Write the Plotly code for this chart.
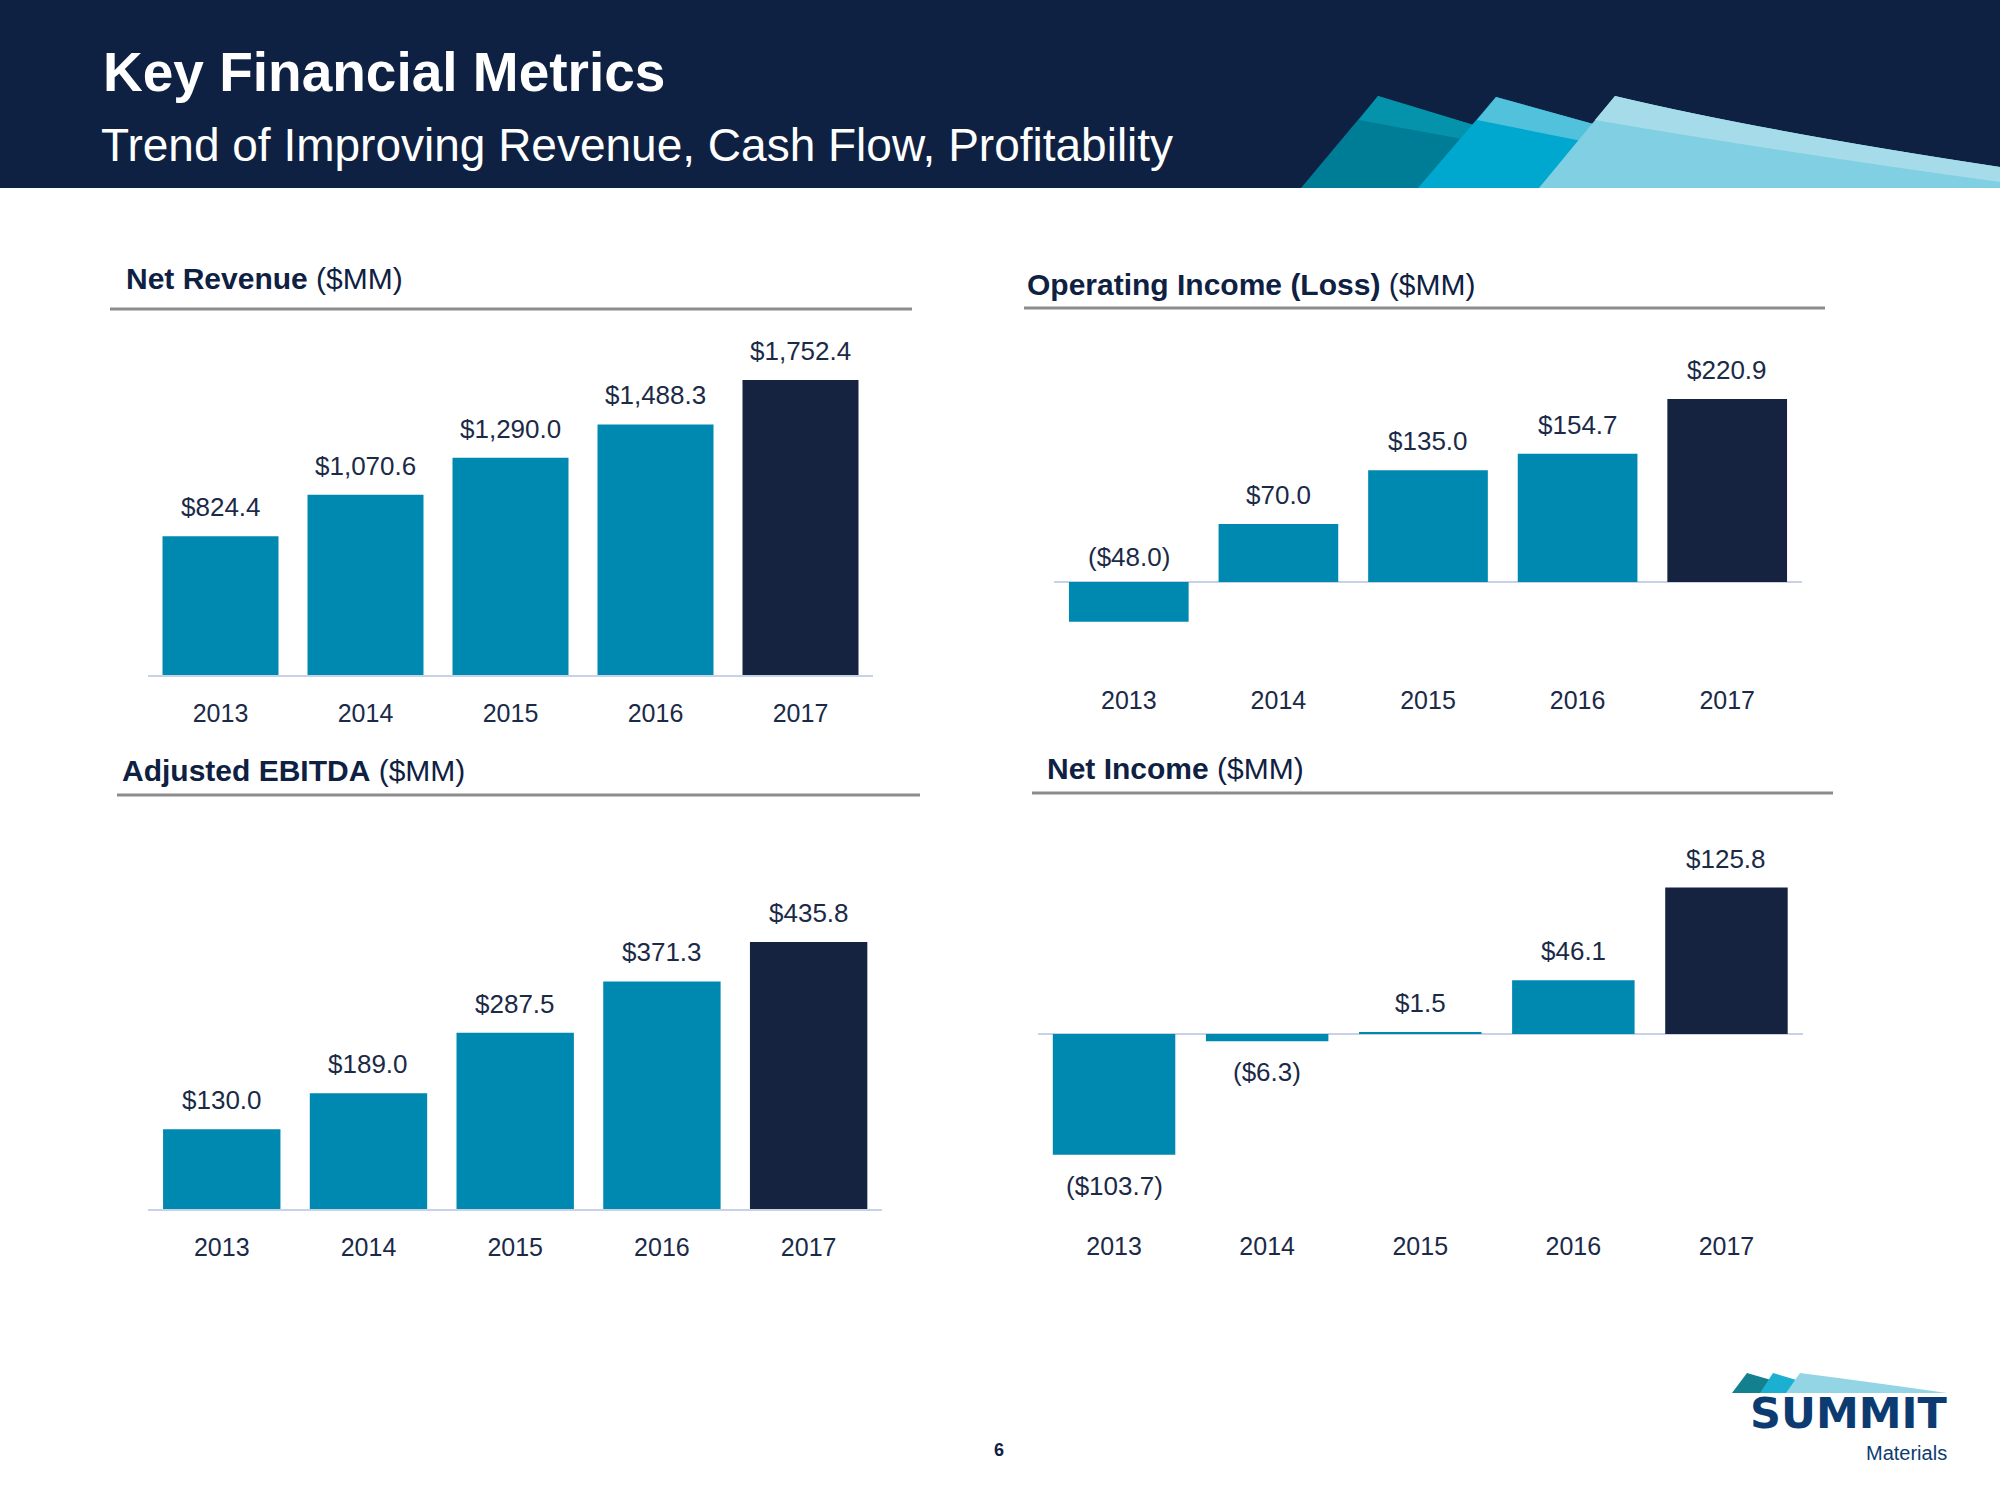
import plotly.graph_objects as go

# ---------------- data ----------------
years = ["2013", "2014", "2015", "2016", "2017"]
net_revenue = [824.4, 1070.6, 1290.0, 1488.3, 1752.4]
operating_income = [-48.0, 70.0, 135.0, 154.7, 220.9]
adjusted_ebitda = [130.0, 189.0, 287.5, 371.3, 435.8]
net_income = [-103.7, -6.3, 1.5, 46.1, 125.8]

chart_titles = ["Net Revenue", "Operating Income (Loss)", "Adjusted EBITDA", "Net Income"]
unit_label = "($MM)"
header_title = "Key Financial Metrics"
header_subtitle = "Trend of Improving Revenue, Cash Flow, Profitability"
page_number = "6"
logo_name = "SUMMIT"
logo_sub = "Materials"

# ---------------- style ----------------
W, H = 2000, 1500
FONT = "Liberation Sans, Arial, sans-serif"
NAVY = "#0f2142"
TEAL = "#0089b0"
DARK = "#152340"
TXT = "#1b2a47"
RULE = "#8c8c8c"
BASE = "#c8d2e6"


def fx(x):
    return x / W


def fy(y):
    return 1 - y / H


def path(cmds):
    out = []
    for c in cmds:
        if isinstance(c, str):
            out.append(c)
        else:
            out.append(f"{fx(c[0]):.5f},{fy(c[1]):.5f}")
    return " ".join(out)


panels = [
    dict(vals=net_revenue, x0=148, x1=873, yt=330, yb=675, yr=[0, 2049.4],
         neg="below", tx=124, tb=289, rule=(110, 912, 309), base="axis"),
    dict(vals=operating_income, x0=1054, x1=1802, yt=330, yb=662.5, yr=[-97.2, 304.2],
         neg="above_zero", tx=1025, tb=295, rule=(1024, 1825, 308), base="zero"),
    dict(vals=adjusted_ebitda, x0=148.4, x1=882, yt=850, yb=1209, yr=[0, 585.9],
         neg="below", tx=120, tb=781, rule=(117, 920, 795), base="axis"),
    dict(vals=net_income, x0=1037.5, x1=1803, yt=850, yb=1209, yr=[-150.3, 158.0],
         neg="below", tx=1045, tb=779, rule=(1032, 1833, 793), base="zero"),
]

fig = go.Figure()
layout = dict(
    width=W, height=H, margin=dict(l=0, r=0, t=0, b=0, pad=0, autoexpand=False),
    paper_bgcolor="white", plot_bgcolor="rgba(0,0,0,0)",
    showlegend=False, bargap=0.2,
    font=dict(family=FONT, color=TXT),
)
annotations = []
shapes = []

for i, p in enumerate(panels):
    n = "" if i == 0 else str(i + 1)
    colors = [TEAL] * (len(years) - 1) + [DARK]
    fig.add_trace(go.Bar(x=years, y=p["vals"], xaxis="x" + n, yaxis="y" + n,
                         marker=dict(color=colors, line=dict(width=0)),
                         hoverinfo="skip"))
    layout["xaxis" + n] = dict(
        type="category", automargin=False, range=[-0.5, len(years) - 0.5],
        categoryorder="array", categoryarray=years,
        domain=[fx(p["x0"]), fx(p["x1"])], anchor="y" + n,
        showgrid=False, zeroline=False,
        showline=(p["base"] == "axis"), linecolor=BASE, linewidth=2,
        ticks="outside", ticklen=15, tickcolor="rgba(0,0,0,0)",
        tickfont=dict(family=FONT, size=25, color=TXT),
    )
    layout["yaxis" + n] = dict(
        domain=[fy(p["yb"]), fy(p["yt"])], anchor="x" + n, range=p["yr"],
        automargin=False,
        showgrid=False, showticklabels=False, ticks="", showline=False,
        zeroline=(p["base"] == "zero"), zerolinecolor=BASE, zerolinewidth=2,
    )
    for j, v in enumerate(p["vals"]):
        if v >= 0:
            txt = f"${v:,.1f}"
            yv, ys = v, 29
        else:
            txt = f"(${abs(v):,.1f})"
            if p["neg"] == "above_zero":
                yv, ys = 0, 25
            else:
                yv, ys = v, -31
        annotations.append(dict(x=j, y=yv, xref="x" + n, yref="y" + n,
                                text=txt, showarrow=False, yanchor="middle",
                                xanchor="center", yshift=ys,
                                font=dict(family=FONT, size=26, color=TXT)))
    annotations.append(dict(x=fx(p["tx"]), y=fy(p["tb"] - 10.7), xref="paper", yref="paper",
                            xanchor="left", yanchor="middle", showarrow=False,
                            text=f"<b>{chart_titles[i]}</b> {unit_label}",
                            font=dict(family=FONT, size=30, color=NAVY)))
    r0, r1, ry = p["rule"]
    shapes.append(dict(type="line", xref="paper", yref="paper",
                       x0=fx(r0), x1=fx(r1), y0=fy(ry), y1=fy(ry),
                       line=dict(color=RULE, width=3)))

# ---------------- header ----------------
shapes.append(dict(type="rect", xref="paper", yref="paper", x0=0, x1=1,
                   y0=fy(188), y1=1, fillcolor=NAVY, line=dict(width=0), layer="below"))
sail_shapes = [
    (path(["M", (1301, 188), "L", (1378, 96), "L", (1500, 133), "L", (1500, 188), "Z"]), "#007d96"),
    (path(["M", (1378, 96), "L", (1500, 133), "L", (1500, 146), "L", (1359, 120), "Z"]), "#0592ab"),
    (path(["M", (1418, 188), "L", (1496, 97), "L", (1622, 132), "L", (1622, 188), "Z"]), "#00a8d0"),
    (path(["M", (1496, 97), "L", (1622, 132), "L", (1622, 149), "L", (1477, 120), "Z"]), "#52c1dc"),
    (path(["M", (1539, 188), "L", (1615, 96), "Q", (1762, 131), (2000, 167), "L", (2000, 188), "Z"]), "#80cfe2"),
    (path(["M", (1615, 96), "Q", (1762, 131), (2000, 167), "L", (2000, 182),
           "Q", (1775, 151), (1595, 120), "Z"]), "#a6dcea"),
    # logo sails
    (path(["M", (1732, 1393), "L", (1747, 1373), "L", (1778, 1382), "L", (1778, 1393), "Z"]), "#12808f"),
    (path(["M", (1760, 1393), "L", (1773, 1373), "L", (1803, 1382), "L", (1803, 1393), "Z"]), "#1bb0d2"),
    (path(["M", (1786, 1393), "L", (1800, 1373), "Q", (1870, 1382), (1947, 1393), "Z"]), "#93d5e5"),
]
for d, c in sail_shapes:
    shapes.append(dict(type="path", xref="paper", yref="paper", path=d,
                       fillcolor=c, line=dict(width=0)))

annotations.append(dict(x=fx(101), y=fy(72), xref="paper", yref="paper", xanchor="left",
                        yanchor="middle", showarrow=False, text=f"<b>{header_title}</b>",
                        font=dict(family=FONT, size=55, color="white")))
annotations.append(dict(x=fx(99), y=fy(145), xref="paper", yref="paper", xanchor="left",
                        yanchor="middle", showarrow=False, text=header_subtitle,
                        font=dict(family=FONT, size=46, color="white")))

annotations.append(dict(x=fx(999), y=fy(1450), xref="paper", yref="paper", xanchor="center",
                        yanchor="middle", showarrow=False, text=f"<b>{page_number}</b>",
                        font=dict(family=FONT, size=18, color=NAVY)))
annotations.append(dict(x=fx(1949), y=fy(1413), xref="paper", yref="paper", xanchor="right",
                        yanchor="middle", showarrow=False, text=f"<b>{logo_name}</b>",
                        font=dict(family="DejaVu Sans", size=43, color="#0c3b72")))
annotations.append(dict(x=fx(1949), y=fy(1453), xref="paper", yref="paper", xanchor="right",
                        yanchor="middle", showarrow=False, text=logo_sub,
                        font=dict(family=FONT, size=20, color="#0c3b72")))

layout["annotations"] = annotations
layout["shapes"] = shapes
fig.update_layout(**layout)
fig.write_html("out.html", config={"displayModeBar": False},
               post_script="document.body.style.margin='0';")
